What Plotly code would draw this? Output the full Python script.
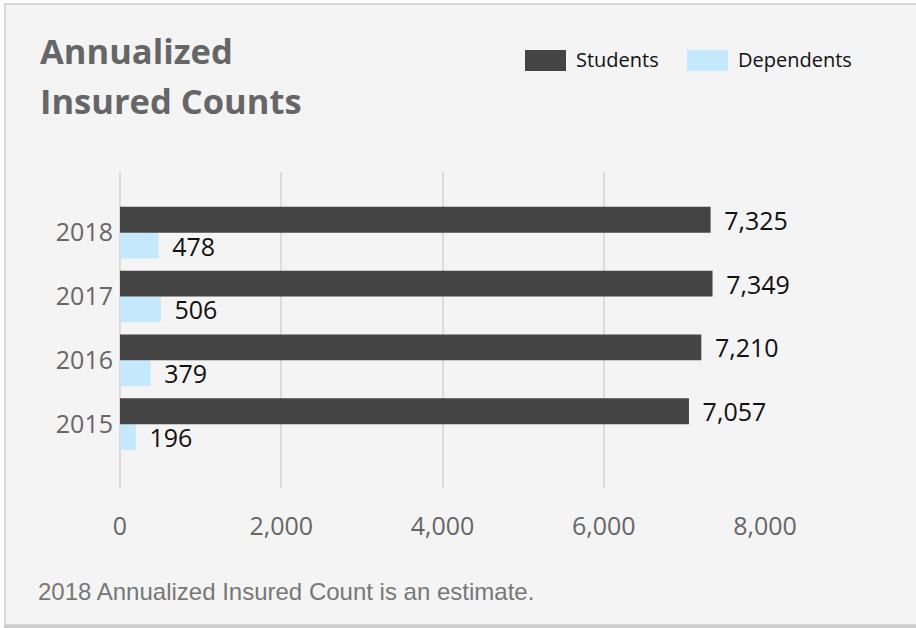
import plotly.graph_objects as go

years = ["2015", "2016", "2017", "2018"]
students = [7057, 7210, 7349, 7325]
dependents = [196, 379, 506, 478]
x_ticks = [0, 2000, 4000, 6000, 8000]
x_tick_labels = ["0", "2,000", "4,000", "6,000", "8,000"]

W, H = 916, 628
L, R, T, B = 120, 151, 172, 140
PW, PH = W - L - R, H - T - B

def px(x):
    return (x - L) / PW

def py(y):
    return 1 - (y - T) / PH

DARK = "#444444"
LIGHT = "#c4e8fc"
BG = "#f4f4f4"
FONT = "Open Sans, Noto Sans, sans-serif"
pad = "\u00a0\u2009"

fig = go.Figure()
fig.add_trace(go.Bar(
    y=years, x=dependents, orientation="h", name="Dependents",
    marker=dict(color=LIGHT, line=dict(width=0)),
    text=[pad + f"{v:,}" for v in dependents], textposition="outside",
    constraintext="none",
    textfont=dict(size=25, color="#111111", family=FONT), cliponaxis=False,
    showlegend=False, hoverinfo="skip",
))
fig.add_trace(go.Bar(
    y=years, x=students, orientation="h", name="Students",
    marker=dict(color=DARK, line=dict(width=0)),
    text=[pad + f"{v:,}" for v in students], textposition="outside",
    constraintext="none",
    textfont=dict(size=25, color="#111111", family=FONT), cliponaxis=False,
    showlegend=False, hoverinfo="skip",
))

shapes = [
    dict(type="rect", xref="paper", yref="paper",
         x0=px(5), x1=px(925), y0=py(4), y1=py(625),
         line=dict(color="#d8d8d8", width=2), fillcolor=BG, layer="below"),
    dict(type="line", xref="paper", yref="paper",
         x0=px(4), x1=px(925), y0=py(626.5), y1=py(626.5),
         line=dict(color="#cccccc", width=3), layer="below"),
    dict(type="rect", xref="paper", yref="paper",
         x0=px(525), x1=px(566), y0=py(50), y1=py(71),
         line=dict(width=0), fillcolor=DARK),
    dict(type="rect", xref="paper", yref="paper",
         x0=px(687), x1=px(728), y0=py(50), y1=py(71),
         line=dict(width=0), fillcolor=LIGHT),
]

annotations = [
    dict(text="<b>Annualized</b>", xref="paper", yref="paper", x=px(38), y=py(51),
         xanchor="left", yanchor="middle", showarrow=False,
         font=dict(size=34.5, color="#666666", family=FONT)),
    dict(text="<b>Insured Counts</b>", xref="paper", yref="paper", x=px(38), y=py(101),
         xanchor="left", yanchor="middle", showarrow=False,
         font=dict(size=34.5, color="#666666", family=FONT)),
    dict(text="Students", xref="paper", yref="paper", x=px(574), y=py(60),
         xanchor="left", yanchor="middle", showarrow=False,
         font=dict(size=20, color="#111111", family=FONT)),
    dict(text="Dependents", xref="paper", yref="paper", x=px(736), y=py(60),
         xanchor="left", yanchor="middle", showarrow=False,
         font=dict(size=20, color="#111111", family=FONT)),
    dict(text="2018 Annualized Insured Count is an estimate.", xref="paper", yref="paper",
         x=px(36), y=py(591), xanchor="left", yanchor="middle", showarrow=False,
         font=dict(size=24, color="#777777", family="Liberation Sans, Arial, sans-serif")),
]

fig.update_layout(
    width=W, height=H,
    margin=dict(l=L, r=R, t=T, b=B, autoexpand=False),
    paper_bgcolor="#ffffff", plot_bgcolor="rgba(0,0,0,0)",
    barmode="group", bargap=0.19, bargroupgap=0,
    shapes=shapes, annotations=annotations,
    showlegend=False, hovermode=False,
    xaxis=dict(range=[0, 8000], tickvals=x_ticks, ticktext=x_tick_labels,
               showgrid=True, gridcolor="#dcdcdc", gridwidth=2,
               zeroline=True, zerolinecolor="#dcdcdc", zerolinewidth=2,
               showline=False, ticks="",
               ticklabelstandoff=21,
               tickfont=dict(size=25, color="#666666", family=FONT)),
    yaxis=dict(range=[-1, 3.95], showgrid=False, zeroline=False, showline=False,
               ticks="", ticklabelstandoff=6,
               tickfont=dict(size=25, color="#666666", family=FONT)),
)

fig.write_html("out.html", config={"displayModeBar": False},
               post_script="document.body.style.margin='0';document.body.style.overflow='hidden';")
